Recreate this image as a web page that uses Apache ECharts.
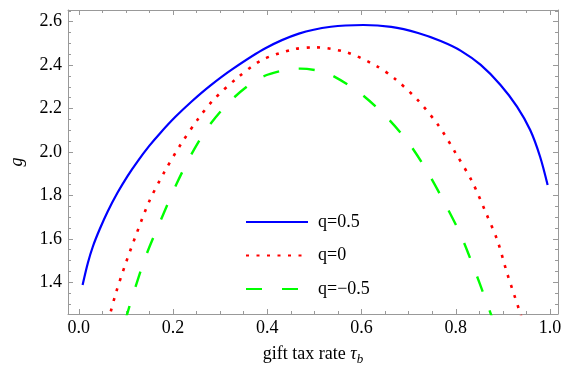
<!DOCTYPE html>
<html>
<head>
<meta charset="utf-8">
<script src="https://cdn.jsdelivr.net/npm/echarts@6/dist/echarts.min.js"></script>
<style>
  html, body { margin: 0; padding: 0; background: #fff; }
  #main { width: 565px; height: 374px; }
</style>
</head>
<body>
<div id="main"></div>
<script>
// values
const blueX = [0.008, 0.019, 0.030, 0.044, 0.061, 0.082, 0.103, 0.124, 0.149, 0.173, 0.205, 0.240, 0.279, 0.326, 0.396, 0.467, 0.535, 0.604, 0.663, 0.720, 0.768, 0.811, 0.853, 0.895, 0.930, 0.958, 0.979, 0.995];
const blueY = [1.388, 1.488, 1.566, 1.643, 1.725, 1.812, 1.888, 1.955, 2.027, 2.088, 2.162, 2.234, 2.306, 2.382, 2.478, 2.545, 2.577, 2.585, 2.576, 2.548, 2.511, 2.466, 2.401, 2.309, 2.209, 2.101, 1.978, 1.848];

const redX = [0.062, 0.0667, 0.0786, 0.0996, 0.124, 0.149, 0.180, 0.2154, 0.254, 0.2857, 0.335, 0.389, 0.456, 0.502, 0.568, 0.632, 0.670, 0.719, 0.765, 0.800, 0.835, 0.863, 0.888, 0.909, 0.937, 0.942];
const redY = [1.22, 1.257, 1.350, 1.488, 1.633, 1.771, 1.902, 2.032, 2.155, 2.240, 2.339, 2.424, 2.473, 2.482, 2.459, 2.396, 2.339, 2.240, 2.117, 1.994, 1.863, 1.725, 1.595, 1.442, 1.257, 1.22];

const greenX = [0.098, 0.1137, 0.1418, 0.177, 0.208, 0.240, 0.275, 0.324, 0.3825, 0.438, 0.470, 0.512, 0.540, 0.593, 0.649, 0.698, 0.740, 0.775, 0.8105, 0.8386, 0.865, 0.880];
const greenY = [1.22, 1.334, 1.518, 1.702, 1.856, 1.994, 2.117, 2.240, 2.339, 2.378, 2.384, 2.373, 2.350, 2.278, 2.170, 2.048, 1.909, 1.771, 1.618, 1.465, 1.311, 1.22];

const seriesNames = ['q=0.5', 'q=0', 'q=\u22120.5'];

const xMin = -0.023, xMax = 1.017;
const yMin = 1.254, yMax = 2.654;

const frame = '#999999';
const font = 'Liberation Serif';

function zip(xs, ys) {
  return xs.map((x, i) => [x, ys[i]]);
}

function makeAxis(pos, isX, showLabels) {
  return {
    type: 'value',
    position: pos,
    min: isX ? xMin : yMin,
    max: isX ? xMax : yMax,
    splitNumber: isX ? 5 : 7,
    axisLine: { show: true, onZero: false, lineStyle: { color: frame, width: 1 } },
    axisTick: { show: true, inside: true, length: 5, lineStyle: { color: frame, width: 1 } },
    minorTick: { show: true, splitNumber: 4, length: 3, lineStyle: { color: frame, width: 1 } },
    splitLine: { show: false },
    axisLabel: {
      show: showLabels,
      showMinLabel: false,
      showMaxLabel: false,
      margin: isX ? 5 : 6,
      color: '#000',
      fontFamily: font,
      fontSize: 18,
      formatter: v => v.toFixed(1)
    }
  };
}

const chart = echarts.init(document.getElementById('main'));

const xBottom = makeAxis('bottom', true, true);
xBottom.name = 'gift tax rate {i|\u03c4}{s|b}';
xBottom.nameLocation = 'middle';
xBottom.nameGap = 29;
xBottom.nameTextStyle = {
  color: '#000', fontFamily: font, fontSize: 18,
  rich: {
    i: { fontFamily: font, fontSize: 18, fontStyle: 'italic', color: '#000' },
    s: { fontFamily: font, fontSize: 13, fontStyle: 'italic', color: '#000', padding: [10, 0, 0, 0] }
  }
};

const yLeft = makeAxis('left', false, true);
yLeft.name = 'g';
yLeft.nameLocation = 'middle';
yLeft.nameGap = 42;
yLeft.nameRotate = 90;
yLeft.nameTextStyle = { color: '#000', fontFamily: font, fontSize: 18, fontStyle: 'italic' };

const option = {
  animation: false,
  backgroundColor: '#fff',
  grid: { left: 64, top: 10, right: 7, bottom: 60, containLabel: false },
  xAxis: [xBottom, makeAxis('top', true, false)],
  yAxis: [yLeft, makeAxis('right', false, false)],
  legend: {
    orient: 'vertical',
    left: 240,
    top: 207,
    itemWidth: 62,
    itemHeight: 14,
    itemGap: 13.5,
    itemStyle: { opacity: 0 },
    textStyle: { fontFamily: font, fontSize: 18, color: '#000', lineHeight: 20, padding: [0, 0, 0, 5] },
    data: seriesNames
  },
  series: [
    {
      name: seriesNames[0], type: 'line', data: zip(blueX, blueY),
      smooth: 0.3, symbol: 'none', clip: true,
      lineStyle: { color: '#0000ff', width: 2.2 },
      itemStyle: { color: '#0000ff' }
    },
    {
      name: seriesNames[1], type: 'line', data: zip(redX, redY),
      smooth: 0.3, symbol: 'none', clip: true,
      lineStyle: { color: '#ff0000', width: 2.6, type: [3, 7.5] },
      itemStyle: { color: '#ff0000' }
    },
    {
      name: seriesNames[2], type: 'line', data: zip(greenX, greenY),
      smooth: 0.3, symbol: 'none', clip: true,
      lineStyle: { color: '#00ff00', width: 2.4, type: [16, 20] },
      itemStyle: { color: '#00ff00' }
    }
  ]
};

chart.setOption(option);
</script>
</body>
</html>
